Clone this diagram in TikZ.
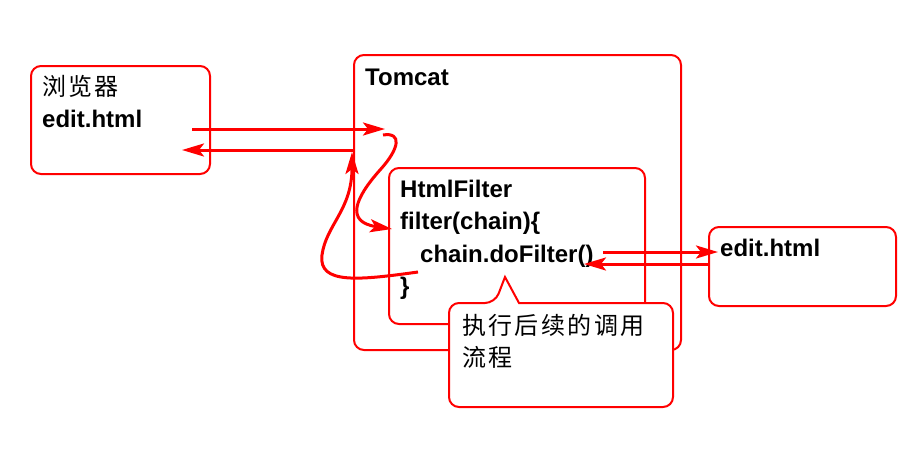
\documentclass[tikz,border=0pt]{standalone}
\usepackage{fontspec}
\setmainfont{Liberation Sans}
\newfontfamily\cjk[LetterSpace=10]{Noto Sans CJK SC}
\usetikzlibrary{positioning, arrows.meta, calc}
\tikzset{
  box/.style={draw=red, line width=2pt, rounded corners=10pt, anchor=north west, inner sep=0pt},
  code/.style={anchor=base west, inner sep=0pt, font=\fontsize{24}{28}\selectfont\bfseries},
  zh/.style={anchor=base west, inner sep=0pt, font=\fontsize{24}{28}\selectfont\cjk},
  flow/.style={draw=red, line width=3pt, -{Stealth[length=22pt,width=13pt,inset=5pt]}},
}
\begin{document}
\begin{tikzpicture}[x=1pt, y=-1pt]
\useasboundingbox (0,0) rectangle (913,448);

\node[box, minimum width=179pt, minimum height=108pt] (browser) at (30,65) {};
\node[box, minimum width=327pt, minimum height=295pt] (tomcat) at (353,54) {};
\node[box, minimum width=256pt, minimum height=156pt] (filter) at (388,167) {};
\node[box, minimum width=187pt, minimum height=79pt] (page) at (708,226) {};

\node[zh] (browsername) at (42,95) {浏览器};
\node[code] (browserpage) at (42,127) {edit.html};
\node[code] (tomcatname) at (365,85) {Tomcat};
\node[code] (filtername) at (400,197) {HtmlFilter};
\node[code] (filterhead) at (400,229) {filter(chain)\{};
\node[code] (dofilter) at (420,262) {chain.doFilter()};
\node[code] (filterend) at (400,294) {\}};
\node[code] (pagename) at (720,256) {edit.html};

\coordinate (req start) at (192,129);
\coordinate (req end) at (385,129);
\coordinate (resp start) at (355,150);
\coordinate (resp end) at (182,150);
\coordinate (in start) at (383,135);
\coordinate (in end) at (392,229);
\coordinate (out start) at (418,272);
\coordinate (out end) at (352,152);
\coordinate (call start) at (603,252);
\coordinate (call end) at (718,252);
\coordinate (back start) at (709,264);
\coordinate (back end) at (584,264);

\draw[flow] (req start) -- (req end);
\draw[flow] (resp start) -- (resp end);
\draw[flow] (in start) .. controls (402,132) and (400,148) .. (380,170)
  .. controls (355,198) and (345,222) .. (in end);
\draw[flow] (out start) .. controls (360,280) and (318,285) .. (322,255)
  .. controls (326,225) and (352,210) .. (out end);
\draw[flow] (call start) -- (call end);
\draw[flow] (back start) -- (back end);

\draw[draw=red, line width=2pt, fill=white, rounded corners=10pt]
  (449,330) |- (495,303) [sharp corners] -- (505,277) -- (519,303)
  [rounded corners=10pt] -| (673,407) -| cycle;
\node[zh] (notetext) at (462,334) {执行后续的调用};
\node[zh] (notetail) at (462,366) {流程};
\end{tikzpicture}
\end{document}
